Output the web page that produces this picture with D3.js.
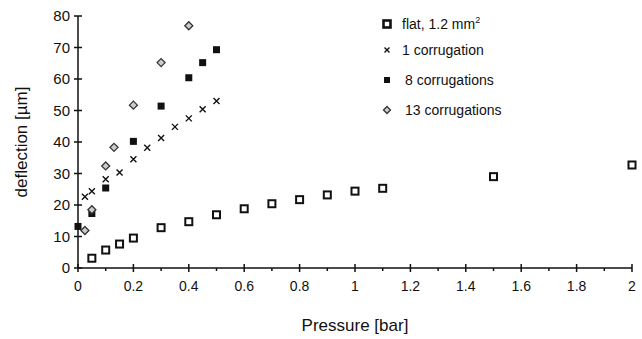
<!DOCTYPE html>
<meta charset="utf-8" />
<title>Deflection vs pressure</title>
<style>
  body { margin: 0; background: #fff; }
  text { font-family: "Liberation Sans", Arial, sans-serif; fill: #111; }
  .axis path, .axis line { stroke: #111; stroke-width: 1.5px; }
</style>
<body>
<svg width="642" height="339"></svg>
<script src="https://d3js.org/d3.v7.min.js"></script>
<script>
// series: [pressure bar, deflection um]
const flat = [[0.05, 3.1], [0.1, 5.7], [0.15, 7.6], [0.2, 9.5], [0.3, 12.8], [0.4, 14.7],
  [0.5, 16.9], [0.6, 18.8], [0.7, 20.4], [0.8, 21.7], [0.9, 23.2], [1.0, 24.4],
  [1.1, 25.3], [1.5, 29.0], [2.0, 32.7]];
const corr1 = [[0.025, 22.6], [0.05, 24.4], [0.1, 28.2], [0.15, 30.3], [0.2, 34.5],
  [0.25, 38.2], [0.3, 41.3], [0.35, 44.8], [0.4, 47.5], [0.45, 50.4], [0.5, 53.0]];
const corr8 = [[0, 13.2], [0.05, 17.3], [0.1, 25.4], [0.2, 40.2], [0.3, 51.4],
  [0.4, 60.4], [0.45, 65.2], [0.5, 69.3]];
const corr13 = [[0.025, 11.9], [0.05, 18.5], [0.1, 32.4], [0.13, 38.3], [0.2, 51.7],
  [0.3, 65.2], [0.4, 76.9]];
const xTicks = [0, 0.2, 0.4, 0.6, 0.8, 1, 1.2, 1.4, 1.6, 1.8, 2];
const yTicks = [0, 10, 20, 30, 40, 50, 60, 70, 80];
const legendLabels = ["flat, 1.2 mm", "1 corrugation", "8 corrugations", "13 corrugations"];

const svg = d3.select("svg");
const x = d3.scaleLinear().domain([0, 2]).range([78, 632]);
const y = d3.scaleLinear().domain([0, 80]).range([268, 16]);

// x axis: major ticks crossing, minor ticks every 0.1
const xAxis = svg.append("g").attr("class", "axis");
xAxis.append("line").attr("x1", x(0)).attr("x2", x(2)).attr("y1", y(0)).attr("y2", y(0));
xAxis.selectAll("line.minor").data(d3.range(1, 20, 2).map(d => d / 10)).join("line")
  .attr("class", "minor")
  .attr("x1", d => x(d)).attr("x2", d => x(d)).attr("y1", y(0)).attr("y2", y(0) + 3);
xAxis.selectAll("line.major").data(xTicks).join("line")
  .attr("class", "major")
  .attr("x1", d => x(d)).attr("x2", d => x(d)).attr("y1", y(0) - 4).attr("y2", y(0) + 4);
xAxis.selectAll("text").data(xTicks).join("text")
  .attr("x", d => x(d)).attr("y", y(0) + 23)
  .attr("text-anchor", "middle").attr("font-size", 14)
  .text(d => d);

// y axis
const yAxis = svg.append("g").attr("class", "axis");
yAxis.append("line").attr("x1", x(0)).attr("x2", x(0)).attr("y1", y(0)).attr("y2", y(80));
yAxis.selectAll("line.major").data(yTicks).join("line")
  .attr("x1", x(0) - 4).attr("x2", x(0) + 4).attr("y1", d => y(d)).attr("y2", d => y(d));
yAxis.selectAll("text").data(yTicks).join("text")
  .attr("x", x(0) - 8).attr("y", d => y(d) + 5)
  .attr("text-anchor", "end").attr("font-size", 15)
  .text(d => d);

svg.append("text").attr("x", 355).attr("y", 331).attr("text-anchor", "middle")
  .attr("font-size", 17).text("Pressure [bar]");
svg.append("text").attr("transform", "translate(27,142) rotate(-90)")
  .attr("text-anchor", "middle").attr("font-size", 17).text("deflection [\u00b5m]");

// marker drawers
function openSquare(g, s, w) {
  g.append("rect").attr("x", -s / 2).attr("y", -s / 2).attr("width", s).attr("height", s)
    .attr("fill", "#fff").attr("stroke", "#111").attr("stroke-width", w || 2);
}
function cross(g, s) {
  g.append("path").attr("d", `M${-s / 2},${-s / 2}L${s / 2},${s / 2}M${-s / 2},${s / 2}L${s / 2},${-s / 2}`)
    .attr("stroke", "#111").attr("stroke-width", 1.4);
}
function filledSquare(g, s) {
  g.append("rect").attr("x", -s / 2).attr("y", -s / 2).attr("width", s).attr("height", s)
    .attr("fill", "#111");
}
function diamond(g, s) {
  g.append("path").attr("d", `M0,${-s / 2}L${s / 2},0L0,${s / 2}L${-s / 2},0Z`)
    .attr("fill", "#ccc").attr("stroke", "#333").attr("stroke-width", 1.3);
}

const series = [
  { data: flat, draw: openSquare, size: 7 },
  { data: corr1, draw: cross, size: 6 },
  { data: corr8, draw: filledSquare, size: 7 },
  { data: corr13, draw: diamond, size: 8 }
];

series.forEach(s => {
  svg.append("g").selectAll("g").data(s.data).join("g")
    .attr("transform", d => `translate(${x(d[0])},${y(d[1])})`)
    .each(function () { s.draw(d3.select(this), s.size); });
});

// legend
const legendY = [24, 50, 80, 110];
const legendSizes = [7, 5, 6, 7];
series.forEach((s, i) => {
  const g = svg.append("g").attr("transform", `translate(387,${legendY[i]})`);
  s.draw(g, legendSizes[i], 2.6);
  const t = svg.append("text").attr("x", i >= 2 ? 405 : 402).attr("y", legendY[i] + 5)
    .attr("font-size", 14).text(legendLabels[i]);
  if (i === 0) t.append("tspan").attr("dy", -6).attr("font-size", 9).text("2");
});
</script>
</body>
